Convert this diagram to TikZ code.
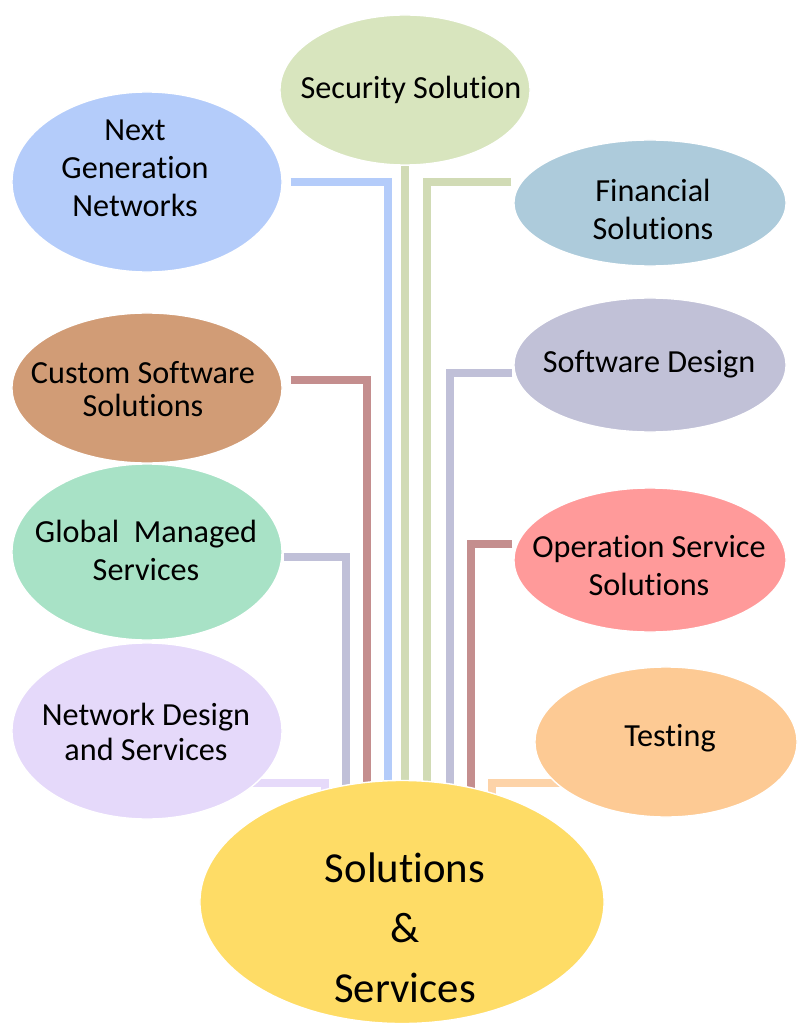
\documentclass[tikz,border=0pt]{standalone}
\usepackage{fontspec}
\setmainfont[Ligatures=NoCommon]{Carlito}
\usetikzlibrary{backgrounds}
\usetikzlibrary{shapes.geometric, calc}

\definecolor{fillnext}{HTML}{B4CCFA}
\definecolor{fillsec}{HTML}{D8E5BE}
\definecolor{fillfin}{HTML}{ADCBDB}
\definecolor{fillcust}{HTML}{D19C76}
\definecolor{fillsoft}{HTML}{C1C1D7}
\definecolor{fillglob}{HTML}{A8E2C6}
\definecolor{fillop}{HTML}{FF9A9A}
\definecolor{fillnet}{HTML}{E5D9FA}
\definecolor{filltest}{HTML}{FDCA94}
\definecolor{fillhub}{HTML}{FEDC66}
\definecolor{lineblue}{HTML}{B4CCFA}
\definecolor{linegreen}{HTML}{D1DBB5}
\definecolor{linerose}{HTML}{C48E8E}
\definecolor{linelav}{HTML}{C0C0D8}
\definecolor{linelilac}{HTML}{E6DAFA}
\definecolor{linepeach}{HTML}{FDD3A8}

\begin{document}
\begin{tikzpicture} [x=0.025cm, y=-0.025cm,
  bubble/.style={ellipse, draw=white, line width=1pt, inner sep=0pt},
  lbl/.style={align=center, font=\fontsize{22.9}{27}\selectfont},
  link/.style={line width=5.7pt}]
  \useasboundingbox (0,0) rectangle (798,1023);

  \node[bubble, fill=fillsec, minimum width=6.25cm, minimum height=3.75cm] (security) at (405,90) {};
  \node[bubble, fill=fillnext, minimum width=6.75cm, minimum height=4.5cm] (nextgen) at (147,182) {};
  \node[bubble, fill=fillfin, minimum width=6.8cm, minimum height=3.15cm] (financial) at (650,203) {};
  \node[bubble, fill=fillcust, minimum width=6.75cm, minimum height=3.75cm] (custom) at (147,388) {};
  \node[bubble, fill=fillsoft, minimum width=6.8cm, minimum height=3.35cm] (softdesign) at (650,365) {};
  \node[bubble, fill=fillglob, minimum width=6.75cm, minimum height=4.4cm] (global) at (147,552) {};
  \node[bubble, fill=fillop, minimum width=6.8cm, minimum height=3.6cm] (operation) at (650,560) {};
  \node[bubble, fill=fillnet, minimum width=6.75cm, minimum height=4.4cm] (netdesign) at (147,731) {};
  \node[bubble, fill=filltest, minimum width=6.55cm, minimum height=3.75cm] (testing) at (666,742) {};
  \node[bubble, fill=fillhub, minimum width=10.1cm, minimum height=6.075cm] (hub) at (402,902) {};

  \node[lbl] (security-txt) at (411,90) {Security Solution};
  \node[lbl] (nextgen-txt) at (135,168) {Next\\Generation\\Networks};
  \node[lbl] (financial-txt) at (653,209) {Financial\\Solutions};
  \node[lbl, font=\fontsize{22.9}{23}\selectfont] (custom-txt) at (143,389) {Custom Software\\Solutions};
  \node[lbl] (softdesign-txt) at (649,364) {Software Design};
  \node[lbl] (global-txt) at (146,550) {Global\ \ Managed\\Services};
  \node[lbl] (operation-txt) at (649,566) {Operation Service\\Solutions};
  \node[lbl, font=\fontsize{22.9}{25.5}\selectfont] (netdesign-txt) at (146,732) {Network Design\\and Services};
  \node[lbl] (testing-txt) at (670,738) {Testing};
  \node[align=center, font=\fontsize{30.4}{42.7}\selectfont] (hub-txt) at (405,928) {Solutions\\\&\\Services};

  % connectors, behind the bubbles
  \begin{scope}[on background layer]
    \draw[link, lineblue] ($(nextgen.east)+(8,0)$) -| ($(hub.center)+(-14,0)$);
    \draw[link, linegreen] (security.south) -- (security.south |- hub.center);
    \draw[link, linegreen] ($(financial.west)+(-2,-21)$) -| ($(hub.center)+(25,0)$);
    \draw[link, linerose] ($(custom.east)+(8,-8)$) -| ($(hub.center)+(-35,0)$);
    \draw[link, linelav] ($(softdesign.west)+(-1,8)$) -| ($(hub.center)+(48,0)$);
    \draw[link, linelav] ($(global.east)+(1,5)$) -| ($(hub.center)+(-56,0)$);
    \draw[link, linerose] ($(operation.west)+(-1,-16)$) -| ($(hub.center)+(69,0)$);
    \draw[link, linelilac] ($(netdesign.center)+(0,52)$) -| ($(hub.center)+(-77,0)$);
    \draw[link, linepeach] ($(testing.center)+(0,41)$) -| ($(hub.center)+(90,0)$);
  \end{scope}
\end{tikzpicture}
\end{document}
